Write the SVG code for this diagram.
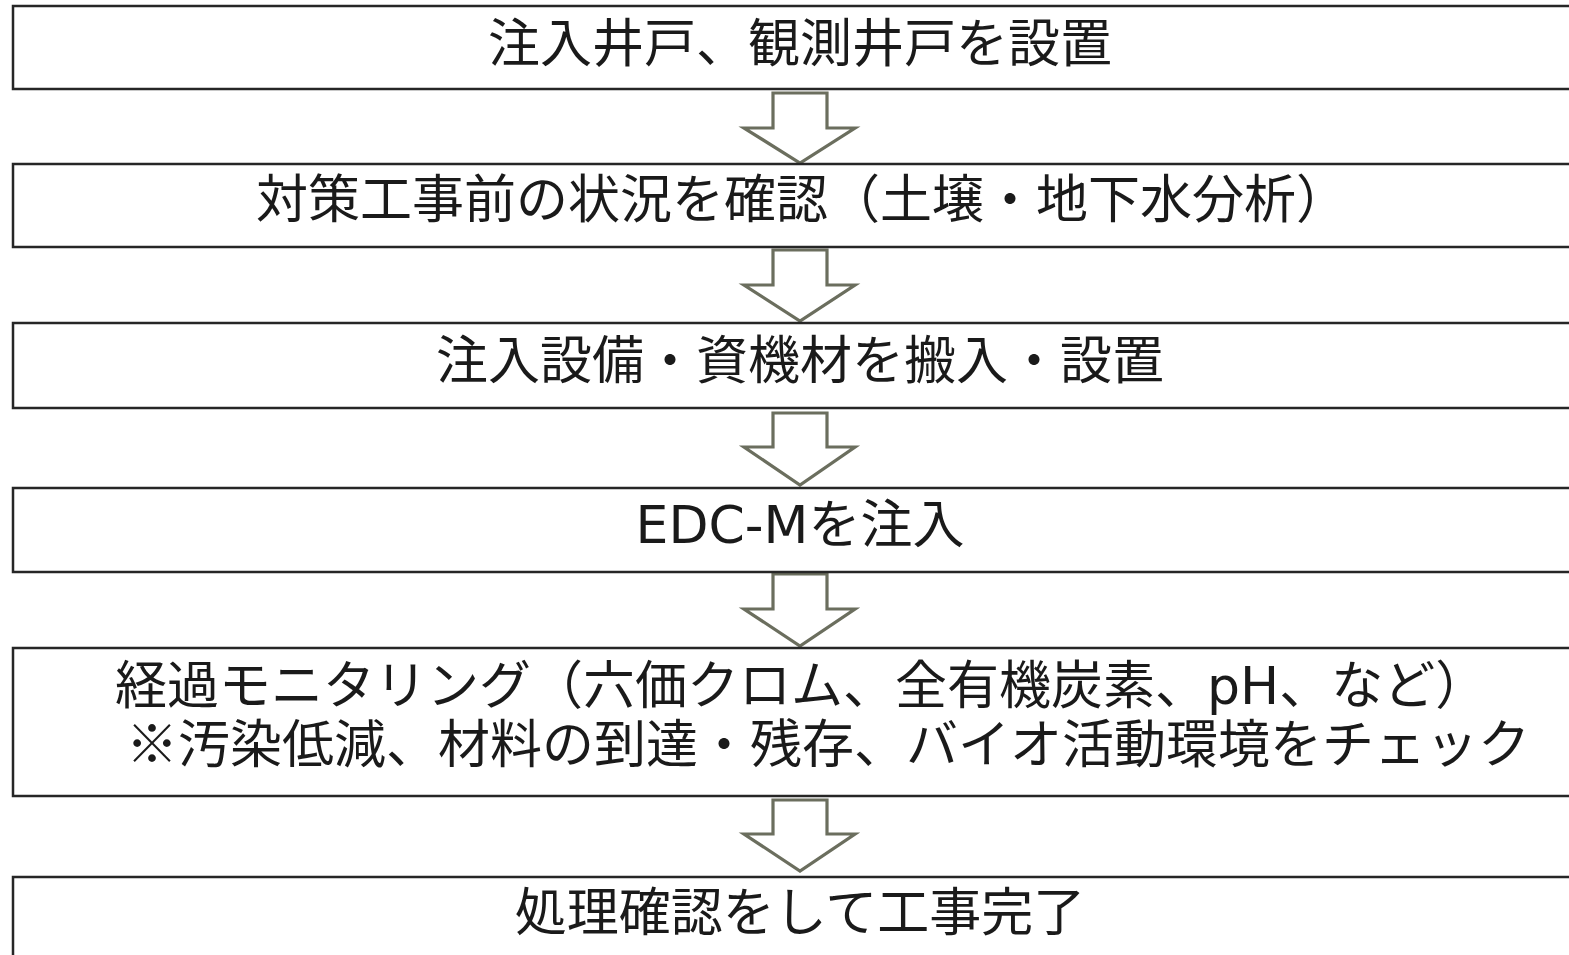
<svg xmlns="http://www.w3.org/2000/svg" width="1569" height="955" viewBox="0 0 1569 955">
<style>
.box{fill:#fff;stroke:#262626;stroke-width:2.5}
.arr{fill:#fff;stroke:#6b6e5e;stroke-width:3.2;stroke-linejoin:miter}
.t{font-family:"Noto Sans CJK JP","Noto Sans CJK SC",sans-serif;font-size:52px;fill:#1a1a1a}
.lat{font-family:"DejaVu Sans",sans-serif}
</style>
<rect width="1569" height="955" fill="#fff"/>
<g id="connectors">
<path class="arr" d="M773,93 H827 V128 H855 L800,163 L744,128 H773 Z"/>
<path class="arr" d="M773,250 H827 V285 H855 L800,321 L744,285 H773 Z"/>
<path class="arr" d="M773,413 H827 V447 H855 L800,485 L744,447 H773 Z"/>
<path class="arr" d="M773,574 H827 V609 H855 L800,646 L744,609 H773 Z"/>
<path class="arr" d="M773,800 H827 V834 H855 L800,871 L744,834 H773 Z"/>
</g>
<g id="n1">
<rect class="box" x="13" y="6" width="1580" height="83"/>
<text class="t" x="800" y="62" text-anchor="middle">注入井戸、観測井戸を設置</text>
</g>
<g id="n2">
<rect class="box" x="13" y="164" width="1580" height="83"/>
<text class="t" x="802" y="218" text-anchor="middle">対策工事前の状況を確認（土壌・地下水分析）</text>
</g>
<g id="n3">
<rect class="box" x="13" y="323" width="1580" height="85"/>
<text class="t" x="800" y="379" text-anchor="middle">注入設備・資機材を搬入・設置</text>
</g>
<g id="n4">
<rect class="box" x="13" y="488" width="1580" height="84"/>
<text class="t" x="800" y="543" text-anchor="middle"><tspan class="lat">EDC-M</tspan>を注入</text>
</g>
<g id="n5">
<rect class="box" x="13" y="648" width="1580" height="148"/>
<text class="t" x="115" y="704">経過モニタリング（六価クロム、全有機炭素、<tspan class="lat">pH</tspan>、など）</text>
<text class="t" x="126" y="763">※汚染低減、材料の到達・残存、バイオ活動環境をチェック</text>
</g>
<g id="n6">
<rect class="box" x="13" y="877" width="1580" height="100"/>
<text class="t" x="800" y="931" text-anchor="middle">処理確認をして工事完了</text>
</g>
</svg>
